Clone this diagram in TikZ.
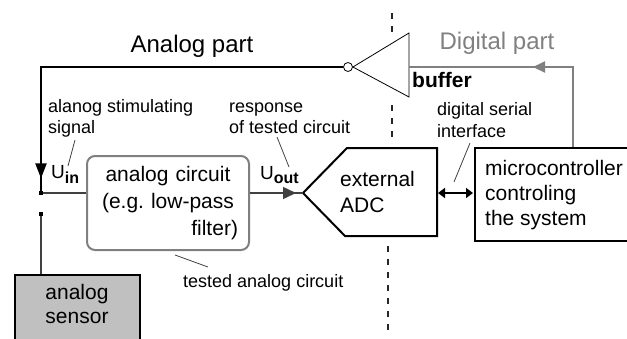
\documentclass[tikz,border=0pt]{standalone}
\usepackage{fontspec}
\setmainfont{Liberation Sans}
\usetikzlibrary{arrows.meta,decorations.markings}
\definecolor{lgray}{HTML}{808080}
\definecolor{sfill}{HTML}{C0C0C0}
\definecolor{dgray}{HTML}{404040}
\begin{document}
\begin{tikzpicture}[x=1pt,y=-1pt,
  big/.style={font=\fontsize{21}{26}\selectfont, inner sep=0pt, align=left},
  small/.style={font=\fontsize{18}{21}\selectfont, inner sep=0pt, align=left},
  titletext/.style={font=\fontsize{24}{28}\selectfont, inner sep=0pt},
  leader/.style={line width=0.8pt, dgray},
  sqnode/.style={fill=black, inner sep=0pt, minimum size=4.5pt},
  dashline/.style={line width=2pt, black!85, dash pattern=on 6pt off 7pt},
  markarrow/.style 2 args={postaction={decorate}, decoration={markings,
     mark=at position #1 with {\arrow{#2}}}}
]
\useasboundingbox (0,0) rectangle (627,338);
\clip (0,0) rectangle (627,338);

% titles
\node[titletext, anchor=base] (analogpart) at (192,52) {Analog part};
\node[titletext, anchor=base, text=lgray] (digitalpart) at (497,49) {Digital part};

% dashed separator
\draw[dashline] (392,13) -- (392,36);
\draw[dashline] (392,105) -- (392,138);
\draw[dashline] (388,246) -- (388,333);

% buffer
\node[draw, circle, inner sep=0pt, minimum size=9pt, line width=0.8pt] (bubble) at (348,67) {};
\coordinate (bufin) at (409,67);
\draw[line width=0.8pt] (409,33) -- (409,97) -- (bubble.east) -- cycle;
\node[anchor=base west, inner sep=0pt, font=\fontsize{21}{21}\selectfont\bfseries] (buflbl) at (412,87) {buffer};

% squares
\node[sqnode] (sq1) at (41,193) {};
\node[sqnode] (sq2) at (41,214) {};

% analog sensor
\node[draw, line width=2pt, fill=sfill, anchor=north west, minimum width=125pt, minimum height=80pt] (sensor) at (14,274) {};
\node[big, align=center, anchor=base] (sensortxt) at (77,323) {analog\\[-2pt]sensor};

% analog circuit
\node[draw=lgray, line width=2pt, rounded corners=8pt, minimum width=162pt, minimum height=94pt,
      text width=140pt, align=center, font=\fontsize{21}{27}\selectfont, inner sep=0pt] (ac) at (168,203)
      {analog circuit\\(e.g.\ low-pass\\\hspace*{\fill}filter)};

% ADC
\coordinate (adcin) at (303,193);
\coordinate (adcout) at (437,193);
\draw[line width=2pt, line join=miter] (adcin) -- (347,148) -- (437,148) -- (adcout) -- (437,236) -- (345,236) -- cycle;
\node[big, anchor=base west] (adctxt) at (340,212) {external\\ADC};

% microcontroller
\node[draw, line width=2pt, anchor=north west, minimum width=180pt, minimum height=93pt] (mcu) at (474,147) {};
\node[big, anchor=base west] (mcutxt) at (485,225) {microcontroller\\[-1pt]controling\\[-1pt]the system};
\coordinate (mcutap) at (573,147);

% connectors
\draw[line width=2pt, markarrow={413.5pt}{Triangle[length=15pt,width=11pt]}] (bubble.west) -| (sq1);
\draw[line width=1.5pt, dgray] (sq1) -- (sq1 -| ac.west);
\draw[line width=1.5pt, dgray] (sq2) -- (sq2 |- sensor.north);
\draw[line width=1.5pt, dgray, markarrow={46pt}{Triangle[length=13pt,width=12pt]}] (ac.east |- adcin) -- (adcin);
\draw[line width=2.5pt, {Triangle[length=7pt,width=10pt]}-{Triangle[length=7pt,width=10pt]}] ([xshift=1pt]adcout) -- ([xshift=-1pt]mcu.west |- adcout);
\draw[line width=2pt, lgray, markarrow={120pt}{Triangle[length=12pt,width=11pt]}] (mcutap) |- (bufin);

% U labels
\node[anchor=base west, inner sep=0pt, font=\fontsize{19}{19}\selectfont] (uin) at (51,178) {U\raisebox{-5pt}{\fontsize{16}{16}\selectfont\bfseries in}};
\node[anchor=base west, inner sep=0pt, font=\fontsize{19}{19}\selectfont] (uout) at (260,179) {U\raisebox{-4pt}{\fontsize{16}{16}\selectfont\bfseries out}};

% annotations
\node[small, anchor=base west] (stim) at (48,133) {alanog stimulating\\signal};
\node[small, anchor=base west] (resp) at (229,133) {response\\of tested circuit};
\node[small, anchor=base west] (dsi) at (437,137) {digital serial\\[1pt]interface};
\node[small, anchor=base west] (tac) at (183,287) {tested analog circuit};

\coordinate (l1a) at (75,140); \coordinate (l1b) at (68,166);
\coordinate (l2a) at (277,137); \coordinate (l2b) at (289,167);
\coordinate (l3a) at (470,143); \coordinate (l3b) at (454,182);
\coordinate (l4a) at (175,255); \coordinate (l4b) at (208,267);
\draw[leader] (l1a) -- (l1b);
\draw[leader] (l2a) -- (l2b);
\draw[leader] (l3a) -- (l3b);
\draw[leader] (l4a) -- (l4b);
\end{tikzpicture}
\end{document}
